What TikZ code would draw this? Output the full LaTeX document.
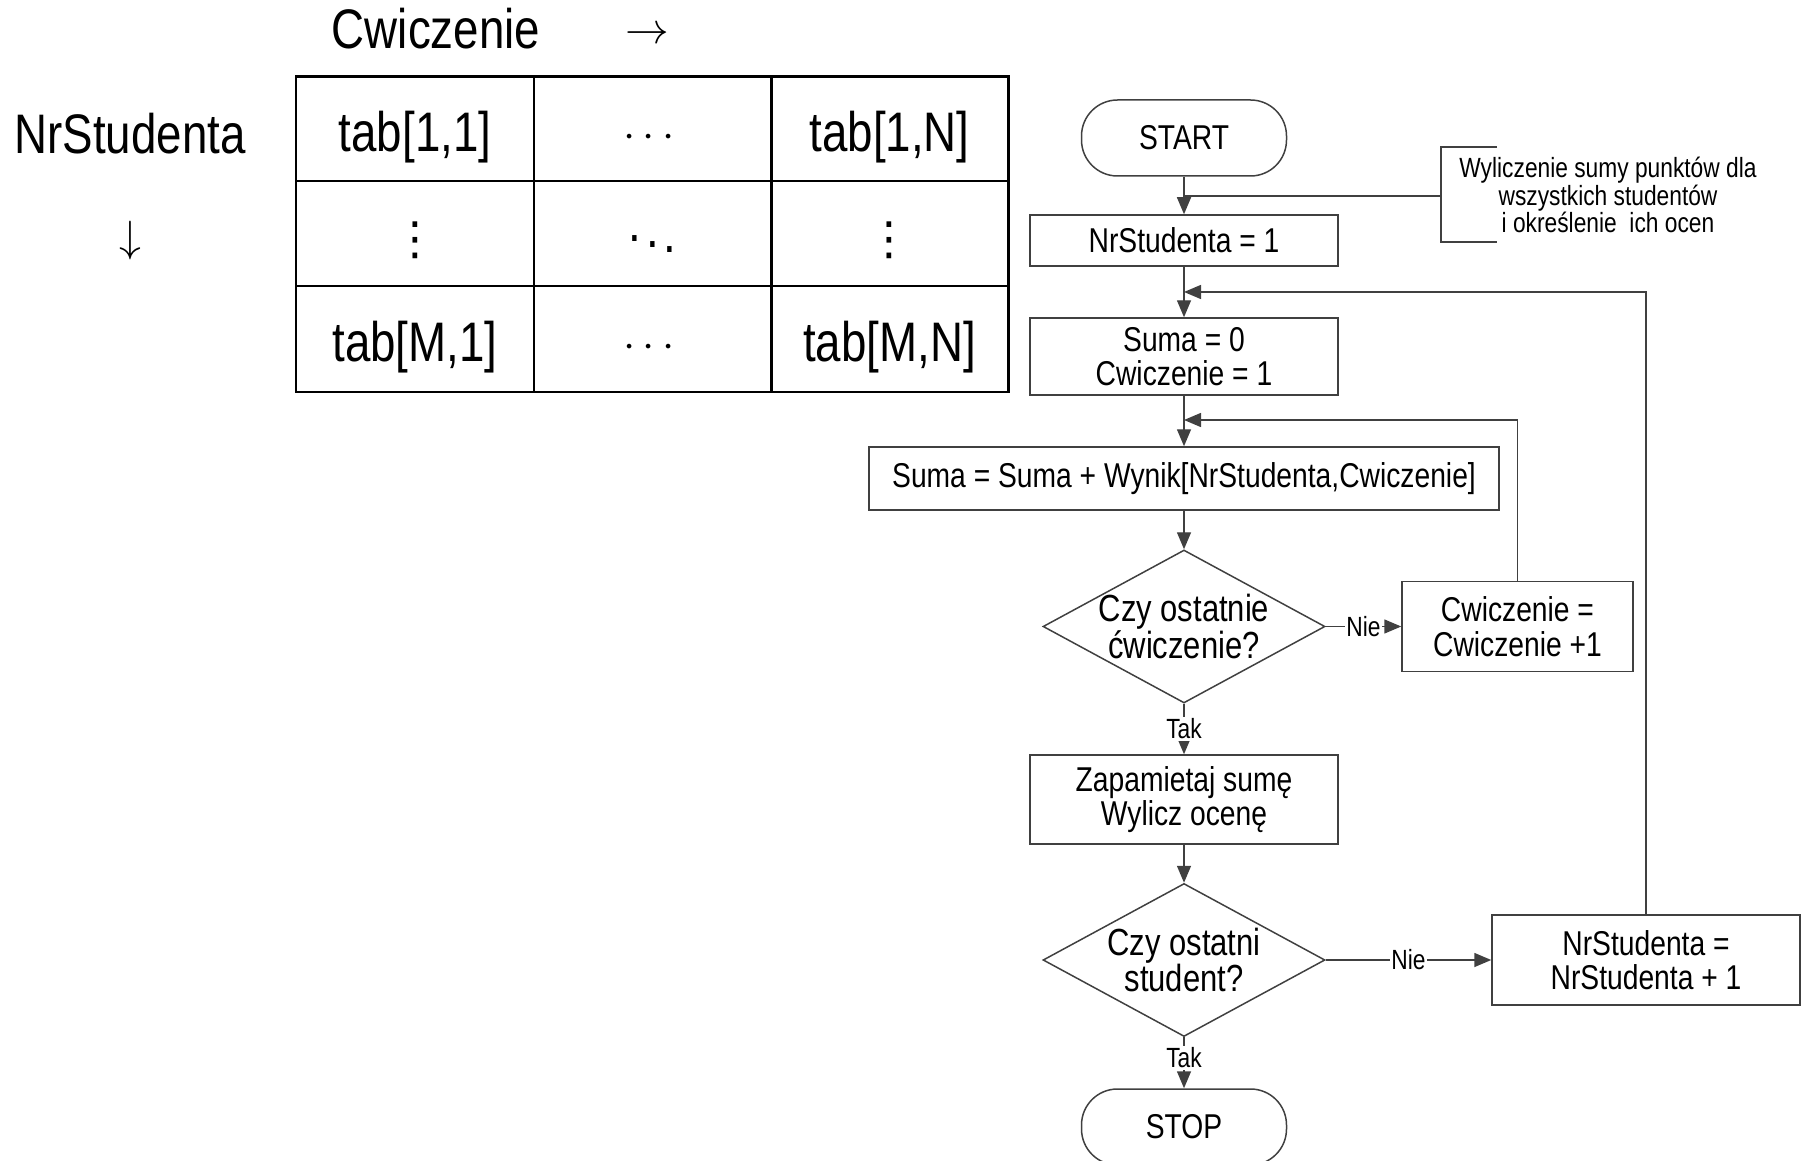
\documentclass[tikz,border=0pt]{standalone}
\usepackage{amsmath, amssymb}
\usepackage{fontspec}
\usepackage{xcolor}
\usepackage{tikz}
\setmainfont{Liberation Sans}[FakeStretch=0.82]
\newfontfamily\symbolfont{DejaVu Sans}
\usetikzlibrary{arrows.meta, shapes.geometric}

\definecolor{linegray}{gray}{0.25}
\newcommand{\bigtxt}{\fontsize{31.7}{38}\selectfont}
\newcommand{\boxtxt}{\fontsize{19.6}{19.6}\selectfont}
\newcommand{\asktxt}{\fontsize{21.5}{20.9}\selectfont}
\newcommand{\smalltxt}{\fontsize{15.8}{15.6}\selectfont}

\begin{document}
\begin{tikzpicture}[
  grid/.style={line width=1.7pt},
  cell/.style={font=\bigtxt},
  process/.style={draw=linegray, line width=0.85pt, rectangle, minimum width=6.16cm, inner sep=0pt, align=center, font=\boxtxt},
  terminal/.style={draw=linegray, line width=0.85pt, rectangle, rounded corners=0.72cm, minimum width=4.1cm, minimum height=1.52cm, font=\boxtxt},
  decision/.style={draw=linegray, line width=0.85pt, diamond, minimum width=5.64cm, minimum height=3.06cm, inner sep=0pt},
  flow/.style={draw=linegray, line width=0.85pt, -{Triangle[length=0.34cm,width=0.28cm]}},
  link/.style={draw=linegray, line width=0.85pt},
  answer/.style={fill=white, inner sep=1pt, font=\smalltxt},
]
\useasboundingbox (0,0) rectangle (36.02,-23.22);

% tablica wynikow
\node[cell] (cwlabel) at (8.72,-0.58) {Cwiczenie};
\node[cell] (cwarrow) at (12.94,-0.7) {$\rightarrow$};
\node[cell] (nrlabel) at (2.6,-2.68) {NrStudenta};
\node[cell] (nrarrow) at (2.6,-4.82) {$\downarrow$};

\draw[grid] (5.92,-1.54) rectangle (20.16,-7.84);
\draw[grid] (10.68,-1.54) -- (10.68,-7.84);
\draw[grid] (15.42,-1.54) -- (15.42,-7.84);
\draw[grid] (5.92,-3.62) -- (20.16,-3.62);
\draw[grid] (5.92,-5.72) -- (20.16,-5.72);

\node[cell] (t11) at (8.30,-2.75) {tab[1,1]};
\node[cell] (t12) at (13.05,-2.75) {$\cdots$};
\node[cell] (t1n) at (17.79,-2.75) {tab[1,N]};
\node[cell, font=\symbolfont\fontsize{26}{30}\selectfont] (t21) at (8.30,-4.8) {⋮};
\node[cell] (t22) at (13.05,-4.78) {$\ddots$};
\node[cell, font=\symbolfont\fontsize{26}{30}\selectfont] (t2n) at (17.79,-4.8) {⋮};
\node[cell] (tm1) at (8.30,-6.95) {tab[M,1]};
\node[cell] (tm2) at (13.05,-6.95) {$\cdots$};
\node[cell] (tmn) at (17.79,-6.95) {tab[M,N]};

% schemat blokowy
\node[terminal] (start) at (23.68,-2.76) {START};
\node[process, minimum height=1.02cm] (first) at (23.68,-4.81) {NrStudenta = 1};
\node[process, minimum height=1.54cm] (reset) at (23.68,-7.13) {Suma = 0\\Cwiczenie = 1};
\node[process, minimum width=12.6cm, minimum height=1.26cm] (add) at (23.68,-9.57) {Suma = Suma + Wynik[NrStudenta,Cwiczenie]};
\node[decision, label={[font=\asktxt, align=center]center:Czy ostatnie\\ćwiczenie?}] (lastex) at (23.68,-12.53) {};
\node[process, minimum width=4.62cm, minimum height=1.8cm] (nextex) at (30.35,-12.53) {Cwiczenie =\\Cwiczenie +1};
\node[process, minimum height=1.78cm] (store) at (23.68,-15.99) {Zapamietaj sumę\\Wylicz ocenę};
\node[decision, label={[font=\asktxt, align=center]center:Czy ostatni\\student?}] (lastst) at (23.68,-19.2) {};
\node[process, minimum height=1.8cm] (nextst) at (32.92,-19.2) {NrStudenta =\\NrStudenta + 1};
\node[terminal] (stop) at (23.68,-22.54) {STOP};

\node[font=\smalltxt, align=center] (note) at (32.16,-3.9) {Wyliczenie sumy punktów dla\\wszystkich studentów\\i określenie\ \ ich ocen};
\coordinate (notetop) at (29.94,-2.94);
\coordinate (notebot) at (29.94,-4.84);
\coordinate (notejoin) at (28.82,-3.92);
\coordinate (outer) at (23.68,-5.84);
\coordinate (inner) at (23.68,-8.4);

\draw[link] (notetop) -| (notejoin) |- (notebot);
\draw[link] (notejoin) -- (notejoin -| start);

\draw[flow] (start) -- (first);
\draw[flow] (first) -- (reset);
\draw[flow] (reset) -- (add);
\draw[flow] (add) -- (lastex);
\draw[flow] (lastex) -- node[answer] {Nie} (nextex);
\draw[flow] (lastex) -- node[answer] {Tak} (store);
\draw[flow] (store) -- (lastst);
\draw[flow] (lastst) -- node[answer] {Nie} (nextst);
\draw[flow] (lastst) -- node[answer, pos=0.4] {Tak} (stop);
\draw[flow] (nextex.north) |- (inner);
\draw[flow] (nextst.north) |- (outer);
\end{tikzpicture}
\end{document}
